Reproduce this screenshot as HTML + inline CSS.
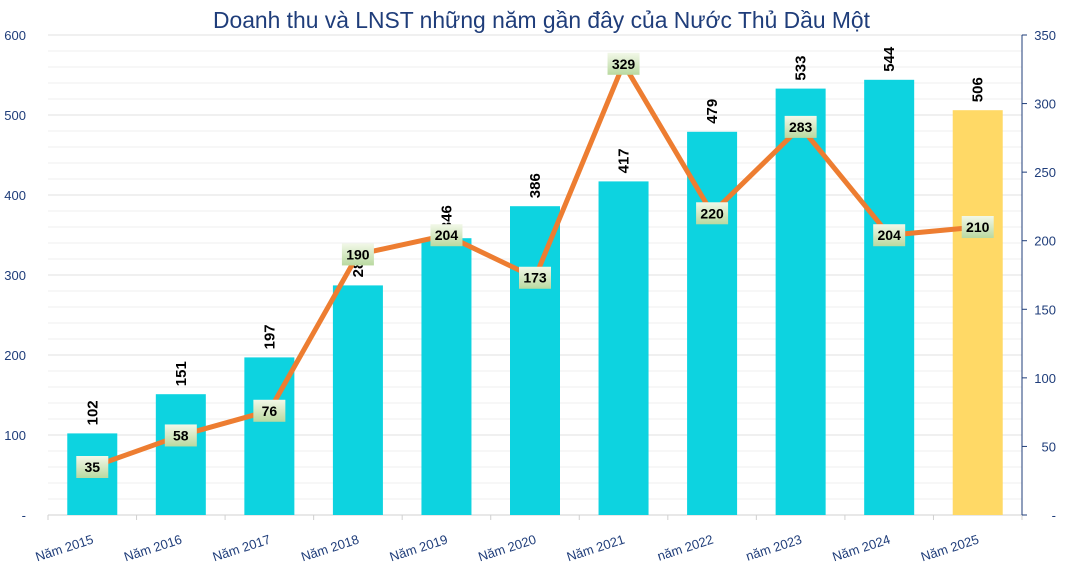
<!DOCTYPE html>
<html><head><meta charset="utf-8"><style>
body{margin:0;background:#fff;}
svg text{font-family:"Liberation Sans",sans-serif;}
</style></head><body>
<svg id="c" width="1072" height="563">
<defs><linearGradient id="lg" x1="0" y1="0" x2="0" y2="1"><stop offset="0" stop-color="#f2f8e8"/><stop offset="1" stop-color="#b9d9a0"/></linearGradient></defs>
<text x="213" y="28" font-size="23" fill="#1f3d7a" textLength="657" lengthAdjust="spacingAndGlyphs">Doanh thu và LNST những năm gần đây của Nước Thủ Dầu Một</text>
</svg>
<script>
const categories=["Năm 2015","Năm 2016","Năm 2017","Năm 2018","Năm 2019","Năm 2020","Năm 2021","năm 2022","năm 2023","Năm 2024","Năm 2025"];
const revenue=[102,151,197,287,346,386,417,479,533,544,506];
const profit=[35,58,76,190,204,173,329,220,283,204,210];
const leftTicks=[0,100,200,300,400,500,600];
const rightTicks=[0,50,100,150,200,250,300,350];
const NS="http://www.w3.org/2000/svg";
const svg=document.getElementById('c');
const X0=48,X1=1022,Y0=515,Y1=35;
const step=(X1-X0)/categories.length;
const xC=i=>X0+step*(i+0.5);
const yL=v=>Y0-(Y0-Y1)*v/600;
const yR=v=>Y0-(Y0-Y1)*v/350;
function mk(t,a,p){const e=document.createElementNS(NS,t);for(const k in a)e.setAttribute(k,a[k]);(p||svg).appendChild(e);return e;}
for(let v=20;v<=600;v+=20){const g=mk('line',{x1:X0,x2:X1,y1:yL(v),y2:yL(v),stroke:v%100?'#efefef':'#e0e0e0','stroke-width':1});

}
const ax=mk('line',{x1:X0,x2:X1,y1:Y0,y2:Y0,stroke:'#d0d0d0'});


for(let i=0;i<=categories.length;i++){const t=mk('line',{x1:X0+step*i,x2:X0+step*i,y1:Y0,y2:Y0+5,stroke:'#d0d0d0'});

}
const ra=mk('line',{x1:X1,x2:X1,y1:Y1,y2:Y0,stroke:'#1f3d7a'});


leftTicks.forEach(v=>{const t=mk('text',{x:26,y:yL(v)+5,'text-anchor':'end','font-size':13,fill:'#1f3d7a'});t.textContent=v?v:'-';

});
rightTicks.forEach(v=>{mk('line',{x1:X1,x2:X1+5,y1:yR(v),y2:yR(v),stroke:'#1f3d7a'});const t=mk('text',{x:1056,y:yR(v)+5,'text-anchor':'end','font-size':13,fill:'#1f3d7a'});t.textContent=v?v:'-';

});
revenue.forEach((v,i)=>{const b=mk('rect',{x:xC(i)-25,y:yL(v),width:50,height:Y0-yL(v),fill:i==10?'#ffd966':'#0dd3e0'});


const t=mk('text',{x:0,y:0,'font-size':15,'font-weight':'bold',fill:'#000',transform:`translate(${xC(i)+5},${yL(v)-8}) rotate(-90)`});t.textContent=v;

});
categories.forEach((c,i)=>{const t=mk('text',{x:0,y:0,'font-size':13,fill:'#1f3d7a','text-anchor':'end',transform:`translate(${xC(i)+2},${Y0+28}) rotate(-18)`});t.textContent=c;

});
const pl=mk('polyline',{points:profit.map((v,i)=>xC(i)+','+yR(v)).join(' '),fill:'none',stroke:'#ed7d31','stroke-width':5,'stroke-linejoin':'round'});


profit.forEach((v,i)=>{const r=mk('rect',{x:xC(i)-16,y:yR(v)-11,width:32,height:22,fill:'url(#lg)'});


const t=mk('text',{x:xC(i),y:yR(v)+5,'text-anchor':'middle','font-size':14,'font-weight':'bold',fill:'#000'});t.textContent=v;

});
</script>
</body></html>
